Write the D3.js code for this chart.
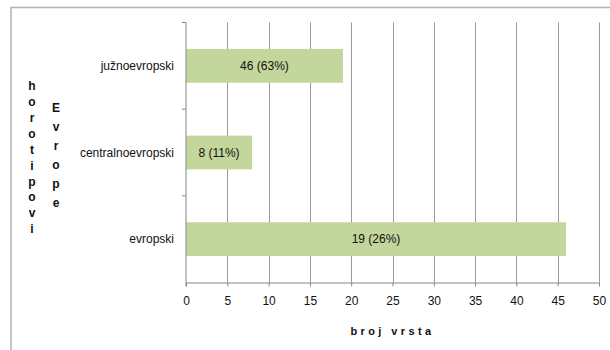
<!DOCTYPE html>
<html>
<head>
<meta charset="utf-8">
<script src="https://cdn.jsdelivr.net/npm/d3@7"></script>
<style>
  html, body { margin: 0; padding: 0; background: #fff; }
  svg { display: block; font-family: "Liberation Sans", Arial, sans-serif; }
</style>
</head>
<body>
<svg id="chart" width="610" height="350"></svg>
<script>
// Chorotype groups of Europe (top to bottom) and number of species per bar
const categories = ["južnoevropski", "centralnoevropski", "evropski"];
const speciesCount = [19, 8, 46];
// Data labels run over the categories in reverse order
const labelOrder = [2, 1, 0];
const xTicks = [0, 5, 10, 15, 20, 25, 30, 35, 40, 45, 50];
const xTitle = "broj vrsta";
const yTitleLines = ["horotipovi", "Evrope"];

const svg = d3.select("#chart");
const W = 610, H = 350;
const plot = { left: 186, right: 599, top: 22.5, bottom: 282.5 };

// Outer chart frame
svg.append("rect")
  .attr("x", 11).attr("y", 7.5)
  .attr("width", W + 10).attr("height", H + 10)
  .attr("fill", "none").attr("stroke", "#b3b3b3").attr("stroke-width", 1.5);

const x = d3.scaleLinear().domain([0, 50]).range([plot.left, plot.right]);
const y = d3.scaleBand().domain(categories).range([plot.top, plot.bottom]).paddingInner(0.61).paddingOuter(0.305);

// Vertical gridlines
svg.append("g").selectAll("line")
  .data(xTicks.filter(d => d > 0))
  .join("line")
  .attr("x1", d => Math.round(x(d)) + 0.5).attr("x2", d => Math.round(x(d)) + 0.5)
  .attr("y1", plot.top).attr("y2", plot.bottom)
  .attr("stroke", "#9a9a9a").attr("stroke-width", 1);

// Bars
const total = d3.sum(speciesCount);
svg.append("g").selectAll("rect")
  .data(categories)
  .join("rect")
  .attr("x", x(0))
  .attr("y", d => y(d))
  .attr("width", (d, i) => x(speciesCount[i]) - x(0))
  .attr("height", y.bandwidth())
  .attr("fill", "#c3d69b");

// Data labels
svg.append("g").selectAll("text")
  .data(categories)
  .join("text")
  .attr("x", (d, i) => (x(0) + x(speciesCount[i])) / 2)
  .attr("y", d => y(d) + y.bandwidth() / 2)
  .attr("dy", "0.35em")
  .attr("text-anchor", "middle")
  .attr("font-size", 12)
  .attr("fill", "#111")
  .text((d, i) => {
    const v = speciesCount[labelOrder[i]];
    return `${v} (${Math.round(v / total * 100)}%)`;
  });

// X axis
const xAxis = d3.axisBottom(x).tickValues(xTicks).tickSize(4).tickSizeOuter(0).tickPadding(10);
const gx = svg.append("g").attr("transform", `translate(0,${plot.bottom})`).call(xAxis);
gx.select(".domain").attr("stroke", "#868686");
gx.selectAll(".tick line").attr("stroke", "#868686");
gx.selectAll(".tick text").attr("font-size", 12).attr("fill", "#111").attr("font-family", "Liberation Sans, Arial, sans-serif");

// Y axis with boundary ticks between categories
const gy = svg.append("g").attr("transform", `translate(${plot.left},0)`);
gy.append("line")
  .attr("x1", 0).attr("x2", 0).attr("y1", plot.top).attr("y2", plot.bottom + 4)
  .attr("stroke", "#868686");
const step = y.step();
gy.selectAll("line.sep")
  .data(d3.range(categories.length))
  .join("line").attr("class", "sep")
  .attr("x1", -4).attr("x2", 0)
  .attr("y1", i => plot.top + i * step).attr("y2", i => plot.top + i * step)
  .attr("stroke", "#868686");
gy.selectAll("text")
  .data(categories)
  .join("text")
  .attr("x", -12)
  .attr("y", d => y(d) + y.bandwidth() / 2)
  .attr("dy", "0.35em")
  .attr("text-anchor", "end")
  .attr("font-size", 12)
  .attr("fill", "#111")
  .text(d => d);

// X axis title
svg.append("text")
  .attr("x", (plot.left + plot.right) / 2)
  .attr("y", 331)
  .attr("dy", "0.35em")
  .attr("text-anchor", "middle")
  .attr("font-size", 11)
  .attr("font-weight", "bold")
  .attr("letter-spacing", 3.4)
  .attr("fill", "#111")
  .text(xTitle);

// Y axis title as stacked letters in two columns
const colX = [32, 56];
const colGap = [15.9, 19];
const colMid = [157.5, 155];
yTitleLines.forEach((word, c) => {
  const letters = Array.from(word);
  const start = colMid[c] - (letters.length - 1) * colGap[c] / 2;
  svg.append("g").selectAll("text")
    .data(letters)
    .join("text")
    .attr("x", colX[c])
    .attr("y", (d, i) => start + i * colGap[c])
    .attr("dy", "0.35em")
    .attr("text-anchor", "middle")
    .attr("font-size", 12)
    .attr("font-weight", "bold")
    .attr("fill", "#111")
    .text(d => d);
});
</script>
</body>
</html>
